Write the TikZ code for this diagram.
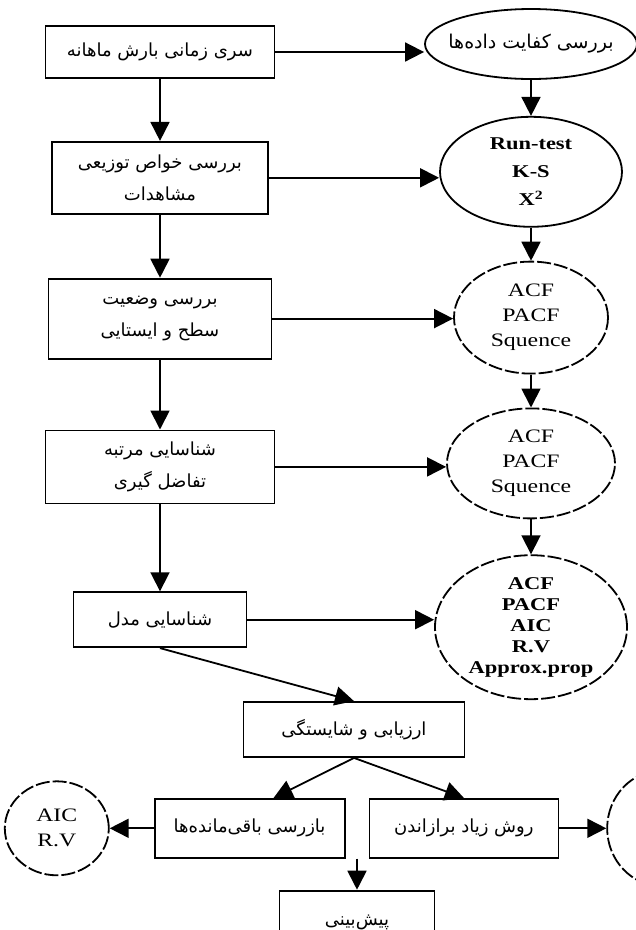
\documentclass[tikz,border=0pt]{standalone}
\usepackage{fontspec}
\setmainfont{Liberation Serif}[FakeStretch=1.25]
\newfontfamily\farsi[Script=Arabic]{DejaVu Sans}
\TeXXeTstate=1
\usetikzlibrary{arrows.meta,positioning,shapes.geometric,calc}
\newcommand{\fa}[1]{{\farsi\beginR #1\endR}}

\begin{document}
\begin{tikzpicture}[
  x=1pt, y=-1pt, line width=1.8pt, >={Triangle[length=19pt,width=19pt]},
  bx/.style={draw,fill=white,align=center,inner sep=2pt,font=\fontsize{18}{32}\selectfont},
  el/.style={draw,ellipse,align=center,inner sep=0pt},
  del/.style={el,dash pattern=on 14pt off 3pt},
  lat/.style={font=\fontsize{19}{25}\selectfont},
  latb/.style={font=\bfseries\fontsize{18}{28}\selectfont}
]
\useasboundingbox (0,0) rectangle (636,930);
\node[bx,minimum width=229pt,minimum height=52pt] (b1) at (160,52) {\fa{سری زمانی بارش ماهانه}};
\node[bx,minimum width=216pt,minimum height=72pt,below=62pt of b1] (b2) {\fa{بررسی خواص توزیعی}\\\fa{مشاهدات}};
\node[bx,minimum width=223pt,minimum height=80pt,below=63pt of b2] (b3) {\fa{بررسی وضعیت}\\\fa{سطح و ایستایی}};
\node[bx,minimum width=229pt,minimum height=73pt,below=70pt of b3] (b4) {\fa{شناسایی مرتبه}\\\fa{تفاضل گیری}};
\node[bx,minimum width=173pt,minimum height=55pt,below=87pt of b4] (b5) {\fa{شناسایی مدل}};
\node[bx,minimum width=221pt,minimum height=55pt,below=53pt of b5,xshift=194pt] (b6) {\fa{ارزیابی و شایستگی}};
\node[bx,minimum width=190pt,minimum height=59pt,below left=40pt and 8.5pt of b6.south] (b7) {\fa{بازرسی باقی‌مانده‌ها}};
\node[bx,minimum width=189pt,minimum height=59pt,below right=40pt and 14.5pt of b6.south] (b8) {\fa{روش زیاد برازاندن}};
\coordinate (gap) at ($(b7.south east)!0.5!(b8.south west)$);
\node[bx,minimum width=155pt,minimum height=64pt,below=31pt of gap] (b9) {\fa{پیش‌بینی}};
\node[el,minimum width=212pt,minimum height=70pt,inner xsep=-22pt,font=\fontsize{19}{22}\selectfont] (e1) at (531,44) {\fa{بررسی کفایت داده‌ها}};
\node[el,latb,minimum width=182pt,minimum height=110pt,below=36pt of e1] (e2) {Run-test\\K-S\\X\textsuperscript{2}};
\node[del,lat,minimum width=154pt,minimum height=112pt,below=33pt of e2] (e3) {ACF\\PACF\\Squence};
\node[del,lat,minimum width=168pt,minimum height=110pt,below=33pt of e3] (e4) {ACF\\PACF\\Squence};
\node[del,font=\bfseries\fontsize{18}{21}\selectfont,minimum width=192pt,minimum height=144pt,below=35pt of e4] (e5) {ACF\\PACF\\AIC\\R.V\\Approx.prop};
\node[del,lat,minimum width=104pt,minimum height=94pt,left=44pt of b7] (aic) {AIC\\R.V};
\node[del,minimum width=110pt,minimum height=116pt,right=47pt of b8] (rc) {};
\draw[->] (b1) -- (b2);
\draw[->] (b2) -- (b3);
\draw[->] (b3) -- (b4);
\draw[->] (b4) -- (b5);
\draw[->] (b1.east) -- (b1.east -| e1.west);
\draw[->] (b2.east) -- (b2.east -| e2.west);
\draw[->] (b3.east) -- (b3.east -| e3.west);
\draw[->] (b4.east) -- (b4.east -| e4.west);
\draw[->] (b5.east) -- (b5.east -| e5.west);
\draw[->] (e1) -- (e2);
\draw[->] (e2) -- (e3);
\draw[->] (e3) -- (e4);
\draw[->] (e4) -- (e5);
\draw[->] (b5.south) -- (b6.north);
\draw[->] (b6.south) -- ([xshift=24pt]b7.north);
\draw[->] (b6.south) -- (b8.north);
\draw[->] (b7) -- (aic);
\draw[->] (b8) -- (rc);
\draw[->] (gap) -- (b9);
\end{tikzpicture}
\end{document}
